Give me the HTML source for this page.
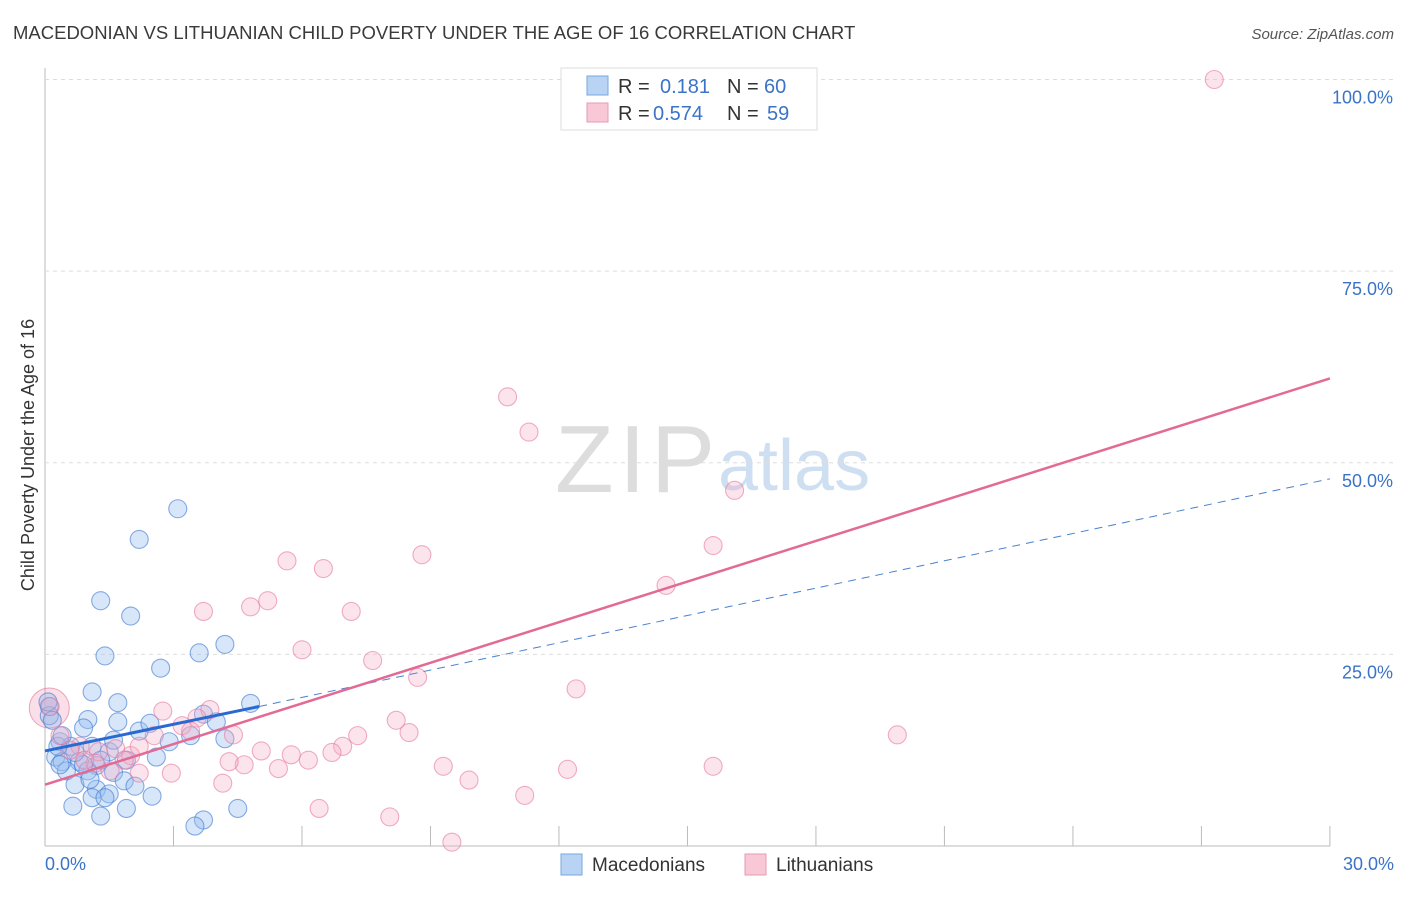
<!DOCTYPE html>
<html><head><meta charset="utf-8"><style>
body{margin:0;background:#fff;font-family:"Liberation Sans",sans-serif;}
svg text{font-family:"Liberation Sans",sans-serif;}
</style></head><body>
<svg id="chart" width="1406" height="892">
<text x="13" y="39" font-size="18.5" fill="#3a3a3a">MACEDONIAN VS LITHUANIAN CHILD POVERTY UNDER THE AGE OF 16 CORRELATION CHART</text>
<text x="1394" y="39" font-size="15" fill="#555" text-anchor="end" font-style="italic">Source: ZipAtlas.com</text>
<text x="34" y="455" font-size="18" fill="#333" text-anchor="middle" transform="rotate(-90 34 455)">Child Poverty Under the Age of 16</text>
<text x="555" y="492" font-size="96" fill="#ddd" font-family="Liberation Serif" textLength="160">ZIP</text>
<text x="718" y="490" font-size="72" fill="#cfdff2">atlas</text>
<g id="grid"></g><g id="pts"></g><g id="lines"></g>
<g>
<rect x="561" y="68" width="256" height="62" fill="#fff" stroke="#ddd"/>
<rect x="587" y="76" width="21" height="19" fill="#b8d3f3" stroke="#7aa7e0"/>
<rect x="587" y="103" width="21" height="19" fill="#f8c8d6" stroke="#e79ab3"/>
<text x="618" y="93" font-size="20" fill="#333">R =</text><text x="660" y="93" font-size="20" fill="#3a73c8">0.181</text>
<text x="727" y="93" font-size="20" fill="#333">N =</text><text x="764" y="93" font-size="20" fill="#3a73c8">60</text>
<text x="618" y="120" font-size="20" fill="#333">R =</text><text x="653" y="120" font-size="20" fill="#3a73c8">0.574</text>
<text x="727" y="120" font-size="20" fill="#333">N =</text><text x="767" y="120" font-size="20" fill="#3a73c8">59</text>
</g>
<g>
<rect x="561" y="854" width="21" height="21" fill="#b8d3f3" stroke="#7aa7e0"/>
<text x="592" y="871" font-size="19" fill="#333">Macedonians</text>
<rect x="745" y="854" width="21" height="21" fill="#f8c8d6" stroke="#e79ab3"/>
<text x="776" y="871" font-size="19" fill="#333">Lithuanians</text>
</g>
</svg>
<script>
const yTicks=[25,50,75,100];
const yTickLabels=["25.0%","50.0%","75.0%","100.0%"];
const xTickLabels=["0.0%","30.0%"];
const macX=[3.1,2.2,1.3,2.0,1.4,2.7,3.6,4.2,1.1,1.7,4.8,0.1,0.1,1.0,1.7,0.9,2.2,3.7,4.0,3.4,4.2,0.35,0.6,1.1,1.5,0.25,0.4,0.8,1.2,1.9,2.6,0.5,1.0,1.6,1.85,0.7,1.2,1.5,2.1,1.1,1.4,2.5,0.65,1.9,1.3,4.5,3.7,3.5,0.07,0.3,0.9,1.3,0.17,0.4,0.7,1.05,2.45,2.9,0.35,1.6];
const macY=[44,40,32,30,24.8,23.2,25.2,26.3,20.1,18.7,18.6,18.2,17,16.5,16.2,15.4,15,17.2,16.2,14.4,14,13.6,13,13,12.3,11.6,11,11,10.5,11.2,11.6,9.8,9.8,9.6,8.5,8,7.4,6.8,7.8,6.3,6.3,6.5,5.2,4.9,3.9,4.9,3.4,2.6,18.8,13,10.6,11.2,16.4,14.4,12.2,8.7,16,13.6,10.6,13.8];
const litX=[27.3,10.8,11.3,16.1,15.6,8.8,5.65,6.5,14.5,5.2,4.8,3.7,7.15,6.0,7.65,8.7,12.4,19.9,2.75,3.85,3.2,3.55,4.4,2.55,1.65,2.0,1.85,1.25,5.05,5.75,4.65,4.3,5.45,6.15,6.95,7.3,6.7,8.2,8.5,9.3,9.9,12.2,15.6,2.95,4.15,2.2,6.4,11.2,8.05,9.5,0.12,0.35,0.82,1.17,1.52,2.2,3.4,0.93,0.58];
const litY=[100,58.6,54,46.4,39.2,38,37.2,36.2,34,32,31.2,30.6,30.6,25.6,24.2,22,20.5,14.5,17.6,17.8,15.7,16.7,14.5,14.4,12.7,11.8,11.2,12.3,12.4,11.9,10.6,11,10.1,11.2,13,14.4,12.2,16.4,14.8,10.4,8.6,10,10.4,9.5,8.2,9.5,4.9,6.6,3.8,0.5,18.2,14.4,13,10.8,9.8,13,15,11.2,12.5];
const macLine=[[0,12.4],[5,18.2]], macDash=[[5,18.2],[30,47.9]];
const litLine=[[0,8],[30,61]];
const X=v=>45+v*42.83, Y=v=>846-v*7.665;
const NS="http://www.w3.org/2000/svg";
function mk(t,a,p){const e=document.createElementNS(NS,t);for(const k in a)e.setAttribute(k,a[k]);p.appendChild(e);return e;}
const grid=document.getElementById('grid');
mk('line',{x1:45,y1:68,x2:45,y2:846,stroke:'#bbb'},grid);
mk('line',{x1:45,y1:846,x2:1330,y2:846,stroke:'#bbb'},grid);
yTicks.forEach((t,i)=>{
 const g=mk('line',{x1:45,y1:Y(t),x2:1394,y2:Y(t),stroke:'#ddd','stroke-dasharray':'4,4'},grid);
 
 
 const l=mk('text',{x:1393,y:Y(t)+24,'font-size':18,fill:'#3a73c8','text-anchor':'end'},grid);l.textContent=yTickLabels[i];
 
 
});
for(let i=1;i<=10;i++){const x=X(i*3);mk('line',{x1:x,y1:826,x2:x,y2:846,stroke:'#bbb'},grid);}
const xl0=mk('text',{x:45,y:870,'font-size':18,fill:'#3a73c8'},grid);xl0.textContent=xTickLabels[0];


const xl1=mk('text',{x:1394,y:870,'font-size':18,fill:'#3a73c8','text-anchor':'end'},grid);xl1.textContent=xTickLabels[1];


const pts=document.getElementById('pts');
mk('circle',{cx:X(0.1),cy:Y(18),r:20,fill:'rgba(240,150,180,0.3)',stroke:'rgba(225,110,150,0.6)'},pts);
macX.forEach((x,i)=>{const c=mk('circle',{cx:X(x),cy:Y(macY[i]),r:9,fill:'rgba(150,190,240,0.38)',stroke:'rgba(60,120,210,0.6)','stroke-width':1.1},pts);
 
 });
litX.forEach((x,i)=>{const c=mk('circle',{cx:X(x),cy:Y(litY[i]),r:9,fill:'rgba(245,170,195,0.32)',stroke:'rgba(230,120,160,0.6)','stroke-width':1.1},pts);
 
 });
const L=document.getElementById('lines');
const a=mk('line',{x1:X(macDash[0][0]),y1:Y(macDash[0][1]),x2:X(macDash[1][0]),y2:Y(macDash[1][1]),stroke:'#4a80d0','stroke-width':1,'stroke-dasharray':'8,6'},L);


const b=mk('line',{x1:X(macLine[0][0]),y1:Y(macLine[0][1]),x2:X(macLine[1][0]),y2:Y(macLine[1][1]),stroke:'#2a6ad0','stroke-width':3},L);


const c=mk('line',{x1:X(litLine[0][0]),y1:Y(litLine[0][1]),x2:X(litLine[1][0]),y2:Y(litLine[1][1]),stroke:'#e26a94','stroke-width':2.5},L);


</script>
</body></html>
